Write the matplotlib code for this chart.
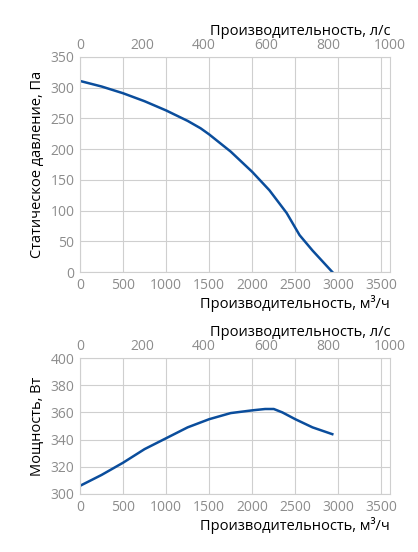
import matplotlib
matplotlib.use('Agg')
import matplotlib.pyplot as plt
import numpy as np

plt.rcParams['font.family'] = ['Open Sans', 'DejaVu Sans']

# данные
flow_p = [0, 250, 500, 750, 1000, 1250, 1400, 1500, 1750, 2000, 2200, 2400, 2550, 2700, 2930]
pressure = [311, 302, 291, 278, 263, 246, 234, 224, 196, 163, 133, 96, 60, 35, 0]
flow_w = [0, 250, 500, 750, 1000, 1250, 1500, 1750, 2000, 2150, 2250, 2350, 2500, 2700, 2930]
power = [306, 314, 323, 333, 341, 349, 355, 359.5, 361.5, 362.5, 362.5, 360, 355, 349, 344]

blue = '#0a4d9c'
grid = '#cfcfcf'
tick_c = '#8c8c8c'

fig = plt.figure(figsize=(4.18, 5.52), dpi=100)
ax1 = fig.add_axes([80/418, 1-272/552, 310/418, 215/552])
ax2 = fig.add_axes([80/418, 1-494/552, 310/418, 136/552])

def style(ax, ymin, ymax, ystep):
    ax.set_xlim(0, 3600)
    ax.set_ylim(ymin, ymax)
    ax.set_xticks(np.arange(0, 3501, 500))
    ax.set_yticks(np.arange(ymin, ymax + 1, ystep))
    ax.grid(True, color=grid, lw=0.8)
    for s in ax.spines.values():
        s.set_color(grid)
    ax.tick_params(colors=tick_c, labelsize=10, length=0, pad=4)
    ax.set_xlabel('Производительность, м³/ч', fontsize=10.5, loc='right', labelpad=2)
    top = ax.secondary_xaxis('top', functions=(lambda x: x / 3.6, lambda x: x * 3.6))
    top.set_xticks(np.arange(0, 1001, 200))
    top.tick_params(colors=tick_c, labelsize=10, length=0, pad=3)
    top.spines['top'].set_visible(False)
    top.set_xlabel('Производительность, л/с', fontsize=10.5, loc='right', labelpad=2)

style(ax1, 0, 350, 50)
ax1.plot(flow_p, pressure, color=blue, lw=1.8)
ax1.set_ylabel('Статическое давление, Па', fontsize=10.5)

style(ax2, 300, 400, 20)
ax2.plot(flow_w, power, color=blue, lw=1.8)
ax2.set_ylabel('Мощность, Вт', fontsize=10.5)

fig.savefig('out.png', dpi=100, facecolor='white')
